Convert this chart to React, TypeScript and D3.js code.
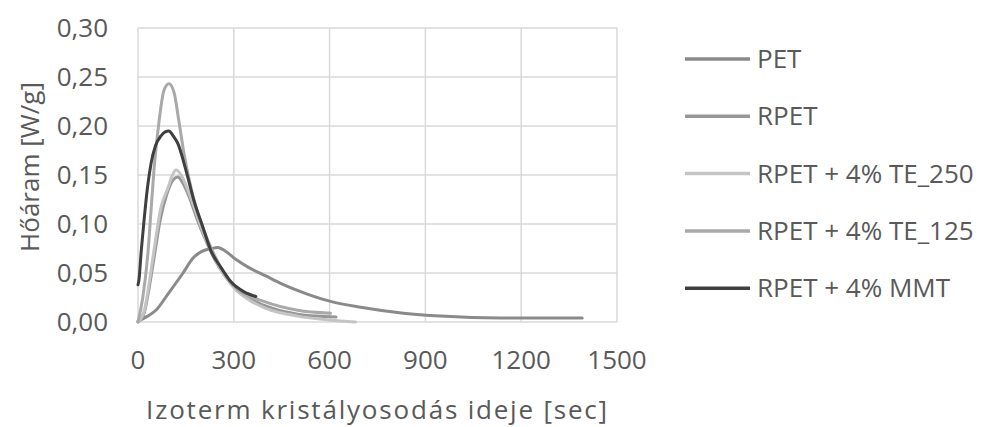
import * as d3 from 'd3'

// ---- data ----
const seriesNames = ['PET', 'RPET', 'RPET + 4% TE_250', 'RPET + 4% TE_125', 'RPET + 4% MMT']
const seriesColors = ['#8a8a8a', '#979797', '#c4c4c4', '#a9a9a9', '#3f3f3f']

const petTime = [0, 30, 56, 97, 141, 172, 200, 230, 250, 275, 306, 350, 400, 450, 509, 603, 697, 831, 947, 1134, 1391]
const petFlow = [0.001, 0.006, 0.012, 0.03, 0.05, 0.065, 0.072, 0.075, 0.076, 0.072, 0.064, 0.055, 0.047, 0.039, 0.031, 0.021, 0.015, 0.009, 0.006, 0.004, 0.004]

const rpetTime = [0, 20, 35, 50, 70, 90, 110, 125, 140, 160, 185, 210, 240, 270, 310, 360, 420, 500, 560, 620]
const rpetFlow = [0, 0.01, 0.035, 0.065, 0.105, 0.13, 0.145, 0.148, 0.142, 0.128, 0.105, 0.085, 0.064, 0.048, 0.033, 0.022, 0.014, 0.008, 0.006, 0.005]

const te250Time = [0, 20, 35, 50, 72, 94, 108, 119, 135, 150, 175, 200, 230, 260, 300, 350, 400, 500, 600, 681]
const te250Flow = [0, 0.012, 0.04, 0.073, 0.117, 0.137, 0.15, 0.155, 0.15, 0.14, 0.118, 0.095, 0.072, 0.053, 0.035, 0.022, 0.014, 0.006, 0.002, 0]

const te125Time = [0, 15, 31, 40, 50, 66, 81, 97, 113, 128, 144, 166, 187, 219, 259, 312, 394, 500, 603]
const te125Flow = [0, 0.025, 0.07, 0.11, 0.155, 0.205, 0.236, 0.243, 0.234, 0.205, 0.172, 0.137, 0.111, 0.083, 0.056, 0.033, 0.021, 0.012, 0.009]

const mmtTime = [0, 3, 10, 19, 30, 41, 55, 72, 85, 97, 110, 125, 150, 175, 203, 228, 259, 291, 331, 369]
const mmtFlow = [0.038, 0.043, 0.072, 0.104, 0.138, 0.162, 0.18, 0.19, 0.194, 0.195, 0.19, 0.182, 0.155, 0.124, 0.097, 0.073, 0.056, 0.041, 0.031, 0.026]

const xTicks = [0, 300, 600, 900, 1200, 1500]
const yTicks = [0, 0.05, 0.1, 0.15, 0.2, 0.25, 0.3]

const allTimes = [petTime, rpetTime, te250Time, te125Time, mmtTime]
const allFlows = [petFlow, rpetFlow, te250Flow, te125Flow, mmtFlow]

// ---- layout ----
const W = 987, H = 427
const margin = { top: 28, right: 370, bottom: 105, left: 138 }
const font = "'Open Sans', sans-serif"
const textColor = '#595959'
const fs = 26

export default function App() {
    const x = d3.scaleLinear().domain([0, 1500]).range([margin.left, W - margin.right])
    const y = d3.scaleLinear().domain([0, 0.3]).range([H - margin.bottom, margin.top])

    const line = d3.line<[number, number]>()
        .x(d => x(d[0]))
        .y(d => y(d[1]))
        .curve(d3.curveMonotoneX)

    const fmt = (v: number) => v.toFixed(2).replace('.', ',')

    return (
        <div style={{ position: 'fixed', left: 0, top: 0 }}>
            <svg width={W} height={H} style={{ display: 'block', background: '#fff' }}>
                {/* grid */}
                <g stroke="#d9d9d9" strokeWidth={1.5}>
                    {yTicks.map(t => (
                        <line key={'y' + t} x1={x(0)} x2={x(1500)} y1={y(t)} y2={y(t)} />
                    ))}
                    {xTicks.map(t => (
                        <line key={'x' + t} x1={x(t)} x2={x(t)} y1={y(0)} y2={y(0.3)} />
                    ))}
                </g>

                {/* y tick labels */}
                <g fontFamily={font} fontSize={fs} fill={textColor} textAnchor="end">
                    {yTicks.map(t => (
                        <text key={t} x={108} y={y(t)} dy="0.35em">{fmt(t)}</text>
                    ))}
                </g>

                {/* x tick labels */}
                <g fontFamily={font} fontSize={fs} fill={textColor} textAnchor="middle">
                    {xTicks.map(t => (
                        <text key={t} x={x(t)} y={y(0) + 38} dy="0.35em">{t}</text>
                    ))}
                </g>

                {/* axis titles */}
                <text x={(x(0) + x(1500)) / 2} y={410} dy="0.35em" fontFamily={font} fontSize={fs} fill={textColor}
                    textAnchor="middle" letterSpacing={1.8}>
                    Izoterm kristályosodás ideje [sec]
                </text>
                <text transform={`translate(30, 167) rotate(-90)`} dy="0.35em" fontFamily={font} fontSize={fs}
                    fill={textColor} textAnchor="middle">
                    Hőáram [W/g]
                </text>

                {/* series */}
                <g fill="none" strokeWidth={3} strokeLinejoin="round" strokeLinecap="round">
                    {seriesNames.map((name, i) => {
                        const pts = allTimes[i].map((t, j) => [t, allFlows[i][j]] as [number, number])
                        return <path key={name} d={line(pts) || ''} stroke={seriesColors[i]} />
                    })}
                </g>

                {/* legend */}
                <g fontFamily={font} fontSize={fs} fill={textColor}>
                    {seriesNames.map((name, i) => {
                        const ly = 59 + i * 57.3
                        return (
                            <g key={name}>
                                <line x1={685} x2={750} y1={ly} y2={ly} stroke={seriesColors[i]} strokeWidth={3.5} />
                                <text x={757} y={ly} dy="0.35em">{name}</text>
                            </g>
                        )
                    })}
                </g>
            </svg>
        </div>
    )
}
